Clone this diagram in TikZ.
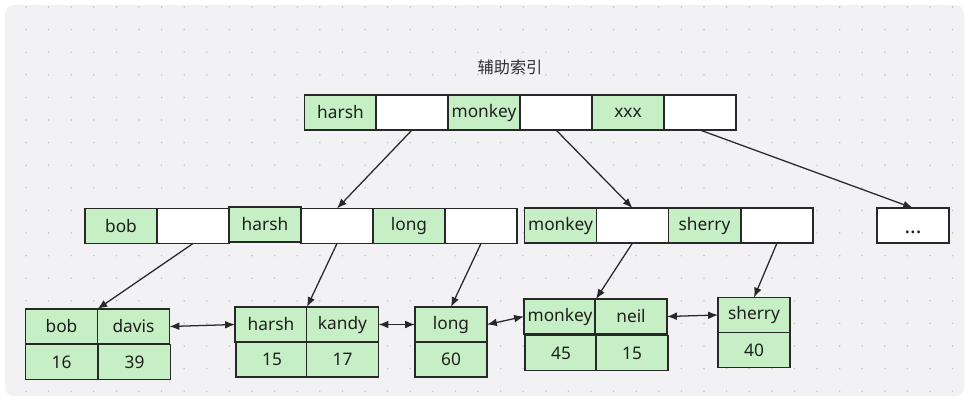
\documentclass[tikz,border=0pt]{standalone}
\usepackage{fontspec}
\setmainfont{Noto Sans}
\newfontfamily\cjk{Noto Sans CJK SC}
\usepackage{tikz}
\usetikzlibrary{positioning,arrows,arrows.meta,calc}
\definecolor{keygreen}{RGB}{198,239,198}
\definecolor{panel}{RGB}{242,242,244}
\definecolor{griddot}{RGB}{196,196,200}
\definecolor{edge}{RGB}{40,40,40}
\tikzset{
    cell/.style = {
        draw=edge,
        shape=rectangle,
        minimum width=1.8cm,
        minimum height=0.875cm,
        line width=0.9pt,
        inner sep=0pt,
        outer sep=0pt,
        text=black!88,
        font=\fontsize{12.3}{14}\selectfont
    },
    key/.style = {
        cell,
        fill=keygreen
    },
    ptr/.style = {
        cell,
        fill=white
    },
    link/.style = {
        draw=edge,
        line width=0.9pt
    },
    >={Latex[length=7pt,width=5.5pt]},
}

\begin{document}
\begin{tikzpicture}[x=0.025cm, y=-0.025cm]
                % background
                \fill[white] (0,0) rectangle (972,402);
                \useasboundingbox (0,0) rectangle (972,402);
                \fill[panel, rounded corners=6pt] (5,5) rectangle (964,396);
                \foreach \i in {0,...,41} {
                    \foreach \j in {0,...,17} {
                        \fill[griddot] (26+22.6*\i, 7+22.6*\j) circle (0.9);
                    }
                }

                \node[font=\cjk\fontsize{11.5}{13}\selectfont, text=black!82] (title) at (510,67) {辅助索引};

                % root
                \node[key] (rk1) at (340.5,112.5) {harsh};
                \node[ptr] (rp1) at (412,112.5) {};
                \node[key] (rk2) at (484,112.5) {monkey};
                \node[ptr] (rp2) at (556,112.5) {};
                \node[key] (rk3) at (628,112.5) {xxx};
                \node[ptr] (rp3) at (700,112.5) {};

                % inner level
                \node[key] (ak1) at (121,226) {bob};
                \node[ptr] (ap1) at (193,226) {};
                \node[key] (ak2) at (265,224.5) {harsh};
                \node[ptr] (ap2) at (337,226) {};
                \node[key] (ak3) at (409,226) {long};
                \node[ptr] (ap3) at (481,226) {};
                \node[key] (bk1) at (560.5,225.5) {monkey};
                \node[ptr] (bp1) at (632.5,225.5) {};
                \node[key] (bk2) at (704.5,225.5) {sherry};
                \node[ptr] (bp2) at (777,225.5) {};
                \node[ptr] (more) at (913,225.5) {\smash{\raisebox{-6pt}{\fontsize{15}{16}\selectfont\textbf{...}}}};

                % leaves
                \node[key] (l1k1) at (61.5,326.5) {bob};
                \node[key] (l1k2) at (133.5,326.5) {davis};
                \node[key] (l1v1) at (61.5,362) {16};
                \node[key] (l1v2) at (134.5,362) {39};

                \node[key] (l2k1) at (271,324.5) {harsh};
                \node[key] (l2k2) at (342.5,324.5) {kandy};
                \node[key] (l2v1) at (272,359.5) {15};
                \node[key] (l2v2) at (342.5,359.5) {17};

                \node[key] (l3k1) at (451,324.5) {long};
                \node[key] (l3v1) at (451,359.5) {60};

                \node[key] (l4k1) at (560,316.5) {monkey};
                \node[key] (l4k2) at (631,316.5) {neil};
                \node[key] (l4v1) at (561,353) {45};
                \node[key] (l4v2) at (632,353) {15};

                \node[key] (l5k1) at (754,315) {sherry};
                \node[key] (l5v1) at (754,350) {40};

                % root pointers
                \path[link, ->] (rp1.south) -- (ap2.north);
                \path[link, ->] (rp2.south) -- (bp1.north);
                \path[link, ->] (rp3.south) -- (more.north);

                % inner pointers
                \path[link, ->] (ap1.south) -- (l1k1.north east);
                \path[link, ->] (ap2.south) -- (l2k1.north east);
                \path[link, ->] (ap3.south) -- (l3k1.north);
                \path[link, ->] (bp1.south) -- (l4k1.north east);
                \path[link, ->] (bp2.south) -- (l5k1.north);

                % leaf list
                \path[link, <->] (l1k2.east) -- (l2k1.west);
                \path[link, <->] (l2k2.east) -- (l3k1.west);
                \path[link, <->] (l3k1.east) -- (l4k1.west);
                \path[link, <->] (l4k2.east) -- (l5k1.west);
\end{tikzpicture}
\end{document}
